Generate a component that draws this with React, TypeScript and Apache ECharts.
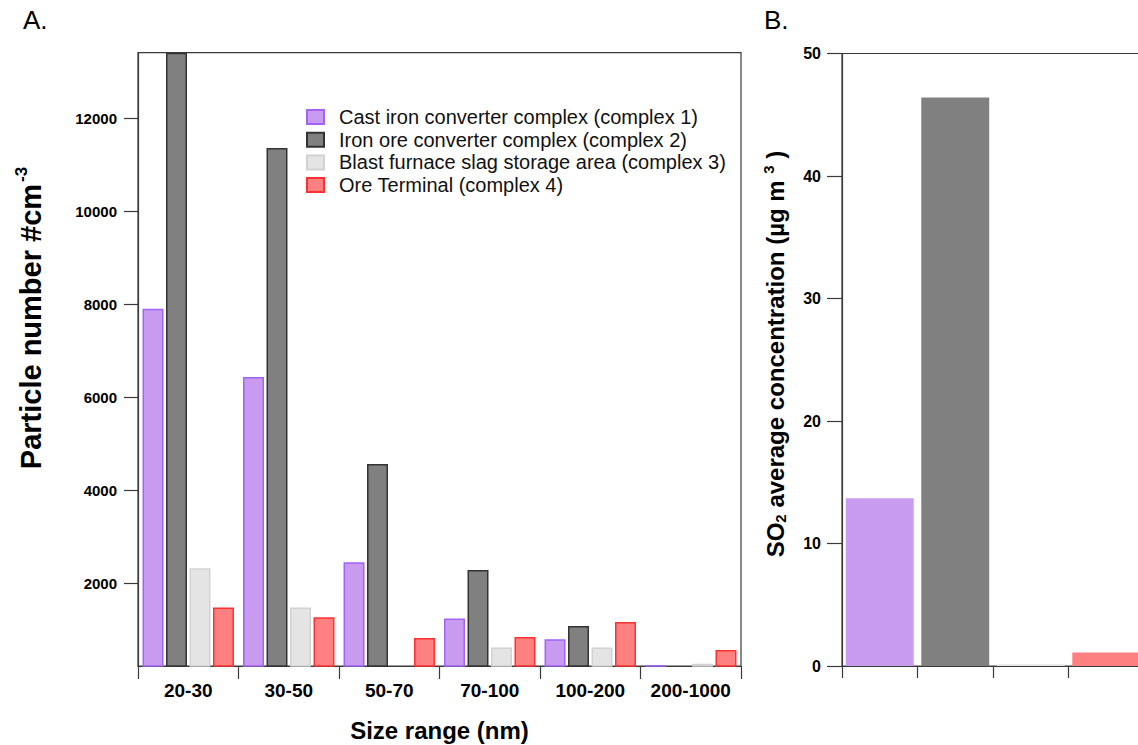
import { useEffect, useRef } from 'react';
import * as echarts from 'echarts';

const sizeRanges = ['20-30', '30-50', '50-70', '70-100', '100-200', '200-1000'];
const seriesNames = [
  'Cast iron converter complex (complex 1)',
  'Iron ore converter complex (complex 2)',
  'Blast furnace slag storage area (complex 3)',
  'Ore Terminal (complex 4)',
];
const complex1 = [7910, 6440, 2455, 1240, 796, 240];
const complex2 = [13420, 11370, 4565, 2285, 1082, 230];
const complex3 = [2325, 1477, 0, 616, 616, 270];
const complex4 = [1480, 1269, 824, 846, 1168, 566];
const particleTicks = [2000, 4000, 6000, 8000, 10000, 12000];

const so2Complexes = ['complex 1', 'complex 2', 'complex 3', 'complex 4'];
const so2Values = [13.7, 46.4, 0.15, 1.1];

const FONT = "'Liberation Sans', Arial, sans-serif";
const AXIS = '#3a3a3a';

const fills = ['#C89BF0', '#808080', '#E4E4E4', '#FF8080'];
const borders = ['#A264F2', '#333333', '#D2D2D2', '#FF3030'];

export default function App() {
  const ref = useRef<HTMLDivElement>(null);
  useEffect(() => {
    if (!ref.current) return;
    const chart = echarts.init(ref.current, null, { renderer: 'svg' });
    const leftData = [complex1, complex2, complex3, complex4];
    const axisLine = { show: true, lineStyle: { color: AXIS, width: 1.2 } };
    const tickLabel = { color: '#000', fontFamily: FONT, fontWeight: 'bold' as const, fontSize: 15 };
    const option: any = {
      animation: false,
      backgroundColor: '#fff',
      legend: {
        data: seriesNames,
        orient: 'vertical',
        left: 301,
        top: 102,
        itemWidth: 17,
        itemHeight: 14,
        itemGap: 2.7,
        icon: 'rect',
        textStyle: { fontFamily: FONT, fontSize: 20, color: '#111', padding: [0, 0, 0, 10] },
      },
      grid: [
        { left: 138, top: 52.7, right: 397, bottom: 79, show: true, borderColor: AXIS, borderWidth: 1.2, backgroundColor: 'transparent', outerBoundsMode: 'none', containLabel: false },
        { left: 842, top: 53.5, right: -6, bottom: 79, show: true, borderColor: AXIS, borderWidth: 1.2, backgroundColor: 'transparent', outerBoundsMode: 'none', containLabel: false },
      ],
      xAxis: [
        {
          gridIndex: 0,
          type: 'category',
          data: sizeRanges,
          axisLine,
          axisTick: { show: true, length: 13, interval: 0, lineStyle: { color: AXIS, width: 1.2 } },
          axisLabel: { ...tickLabel, fontSize: 19, margin: 15, interval: 0 },
          name: 'Size range (nm)',
          nameLocation: 'middle',
          nameGap: 52,
          nameTextStyle: { fontFamily: FONT, fontWeight: 'bold', fontSize: 24, color: '#000' },
        },
        {
          gridIndex: 1,
          type: 'category',
          data: so2Complexes,
          axisLine,
          axisTick: { show: true, length: 12, interval: 0, lineStyle: { color: AXIS, width: 1.2 } },
          axisLabel: { show: false },
        },
      ],
      yAxis: [
        {
          gridIndex: 0,
          type: 'value',
          min: 220,
          max: 13420,
          splitNumber: 6,
          axisLine,
          axisTick: { show: true, length: 14, customValues: particleTicks, lineStyle: { color: AXIS, width: 1.2 } },
          axisLabel: { ...tickLabel, margin: 21, customValues: particleTicks, formatter: (v: number) => String(v) },
          splitLine: { show: false },
        },
        {
          gridIndex: 1,
          type: 'value',
          min: 0,
          max: 50,
          interval: 10,
          axisLine,
          axisTick: { show: true, length: 15, lineStyle: { color: AXIS, width: 1.2 } },
          axisLabel: { ...tickLabel, fontSize: 16, margin: 21, formatter: (v: number) => String(v) },
          splitLine: { show: false },
        },
      ],
      series: [
        ...leftData.map((d, i) => ({
          type: 'bar',
          name: seriesNames[i],
          xAxisIndex: 0,
          yAxisIndex: 0,
          data: d,
          clip: true,
          barGap: '12%',
          barCategoryGap: '9%',
          itemStyle: { color: fills[i], borderColor: borders[i], borderWidth: 1.5 },
        })),
        {
          type: 'bar',
          name: 'SO2',
          xAxisIndex: 1,
          yAxisIndex: 1,
          clip: true,
          barCategoryGap: '10%',
          data: so2Values.map((v, i) => ({ value: v, itemStyle: { color: fills[i] } })),
        },
      ],
      graphic: [
        { type: 'text', x: 23, y: 20, style: { text: 'A.', font: `26px ${FONT}`, fill: '#000', verticalAlign: 'middle' } },
        { type: 'text', x: 764, y: 20, style: { text: 'B.', font: `26px ${FONT}`, fill: '#000', verticalAlign: 'middle' } },
        {
          type: 'text',
          x: 29,
          y: 318,
          rotation: Math.PI / 2,
          style: {
            text: '{a|Particle number #cm}{s|-3}',
            align: 'center',
            verticalAlign: 'middle',
            rich: {
              a: { fontFamily: FONT, fontWeight: 'bold', fontSize: 29, fill: '#000', lineHeight: 32, verticalAlign: 'bottom' },
              s: { fontFamily: FONT, fontWeight: 'bold', fontSize: 17, fill: '#000', lineHeight: 32, verticalAlign: 'top', padding: [0, 0, 14, 2] },
            },
          },
        },
        {
          type: 'text',
          x: 775,
          y: 354,
          rotation: Math.PI / 2,
          style: {
            text: '{a|SO}{b|2}{a| average concentration (µg m }{s|3}{a| )}',
            align: 'center',
            verticalAlign: 'middle',
            rich: {
              a: { fontFamily: FONT, fontWeight: 'bold', fontSize: 24, fill: '#000', lineHeight: 30 },
              b: { fontFamily: FONT, fontWeight: 'bold', fontSize: 15, fill: '#000', lineHeight: 30, padding: [10, 0, 0, 0] },
              s: { fontFamily: FONT, fontWeight: 'bold', fontSize: 15, fill: '#000', lineHeight: 30, padding: [0, 0, 14, 0] },
            },
          },
        },
      ],
    };
    chart.setOption(option);
    return () => chart.dispose();
  }, []);
  return <div ref={ref} style={{ position: 'absolute', left: 0, top: 0, width: 1138, height: 745 }} />;
}
